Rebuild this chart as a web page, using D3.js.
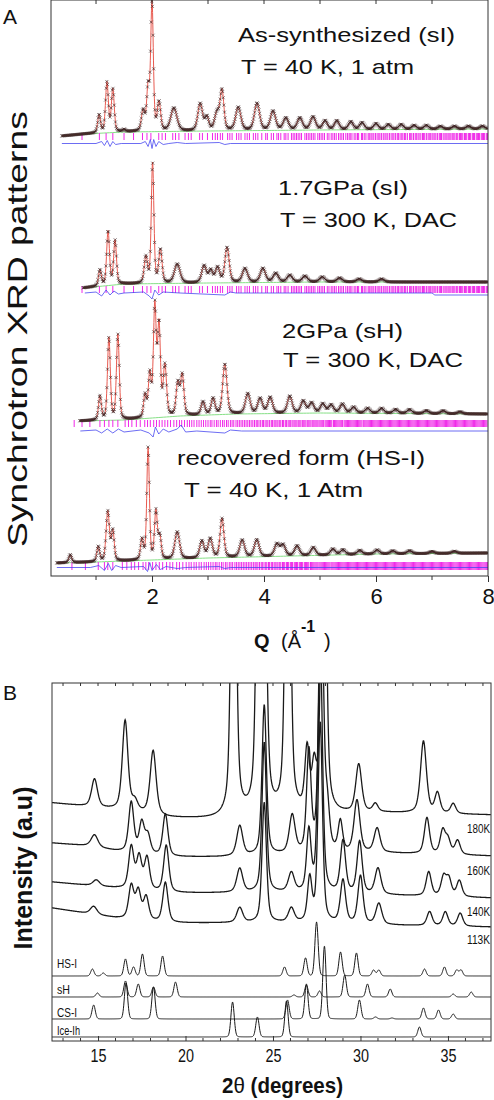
<!DOCTYPE html>
<html><head><meta charset="utf-8">
<script src="https://cdn.jsdelivr.net/npm/d3@7"></script>
<style>body{margin:0;background:#fff}svg{display:block}text{font-family:"Liberation Sans",Arial,sans-serif}</style>
</head><body>
<svg id="c" width="494" height="1100"></svg>
<script>
// ---------------- Panel A data (Q in 1/Å, intensity in a.u.) ----------------
const qMajorTicks = [2, 4, 6, 8];
const qMinorTicks = [1, 3, 5, 7];
const patternLabels = [
  ["As-synthesized (sI)", "T = 40 K, 1 atm"],
  ["1.7GPa (sI)", "T = 300 K, DAC"],
  ["2GPa (sH)", "T = 300 K, DAC"],
  ["recovered form (HS-I)", "T = 40 K, 1 Atm"]
];
const patternStart = [0.39, 0.77, 0.71, 0.30];
// background (green) control points [Q, I]
const bgP1 = [[0.39,440],[0.8,442],[1.5,444],[3,445],[5,446],[8,447]];
const bgP2 = [[0.77,288],[1.5,292],[3,293],[5,294],[8,294]];
const bgP3 = [[0.71,155],[1.5,156],[2.5,160],[3.5,162],[5,163],[8,162]];
const bgP4 = [[0.3,13],[1,14],[2,16],[3,18],[4.5,20],[6,22],[8,23]];
// peaks [Q, height, FWHM]
const peaksP1 = [[1.055,18,.06],[1.195,50,.06],[1.30,43,.06],[1.5,2,.06],[1.84,20,.07],[1.93,42,.06],[2.0,128,.055],[2.125,28,.07],[2.39,23,.13],[2.86,27,.1],[2.98,13,.08],[3.16,17,.1],[3.25,39,.08],[3.54,23,.11],[3.875,27,.11],[4.16,19,.11],[4.39,12,.11],[4.64,12,.11],[4.875,13,.11],[5.09,9,.1],[5.3,9,.1],[5.55,8,.1],[5.75,7,.1],[6.0,6,.1],[6.22,5,.1],[6.45,5,.1],[6.68,4,.1],[6.9,4,.1],[7.15,3,.1],[7.4,3,.1],[7.65,3,.1],[7.9,3,.1]];
const peaksP2 = [[1.07,16,.06],[1.215,54,.06],[1.34,44,.06],[1.89,26,.07],[2.01,120,.055],[2.15,33,.07],[2.45,19,.12],[2.93,17,.1],[3.05,12,.08],[3.17,15,.09],[3.34,35,.09],[3.66,14,.11],[3.98,14,.11],[4.21,9,.11],[4.46,7,.11],[4.73,6,.11],[5.04,5,.11],[5.35,4,.11],[5.7,3,.11],[6.1,3,.11]];
const peaksP3 = [[1.07,24,.06],[1.23,82,.06],[1.39,85,.06],[1.875,22,.06],[1.96,42,.06],[2.05,110,.06],[2.125,90,.06],[2.23,50,.07],[2.46,32,.07],[2.54,40,.07],[2.91,13,.08],[3.09,16,.08],[3.30,50,.09],[3.71,20,.1],[3.93,15,.1],[4.11,16,.1],[4.46,17,.1],[4.7,12,.1],[4.85,10,.1],[5.05,9,.1],[5.2,8,.1],[5.4,9,.1],[5.6,6,.1],[5.85,5,.1],[6.1,5,.1],[6.35,4,.1],[6.6,4,.1],[6.9,3,.1],[7.2,3,.1],[7.5,2,.1]];
const peaksP4 = [[0.54,8,.06],[1.04,15,.06],[1.21,50,.07],[1.30,30,.06],[1.82,20,.06],[1.93,112,.055],[2.07,48,.06],[2.14,22,.06],[2.45,27,.1],[2.89,17,.09],[3.04,19,.09],[3.25,39,.08],[3.61,17,.1],[3.87,17,.1],[4.23,12,.1],[4.34,11,.1],[4.59,10,.1],[4.88,8,.1],[5.23,6,.1],[5.41,5,.1],[5.71,4,.1],[6.02,4,.1],[6.3,3,.1],[6.6,3,.1],[7.0,2,.1],[7.4,2,.1]];
// reflection markers (Q)
const ticksSI = [0.75,1.06,1.18,1.30,1.50,1.67,1.83,1.91,1.98,2.12,2.18,2.24,2.37,2.42,2.48,2.59,2.65,2.70,2.85,2.90,2.99,3.08,3.13,3.17,3.22,3.26,3.35,3.39,3.43,3.51,3.55,3.59,3.66,3.70,3.74,3.81,3.85,3.89,3.96,4.03,4.06,4.13,4.17,4.23,4.26,4.30,4.36,4.39,4.43,4.49,4.52,4.55,4.58,4.61,4.64,4.67,4.73,4.76,4.79,4.82,4.85,4.88,4.91,4.96,4.99,5.02,5.05,5.08,5.13,5.16,5.2,5.23,5.26,5.29,5.33,5.36,5.39,5.42,5.46,5.49,5.52,5.54,5.57,5.61,5.64,5.67,5.69,5.74,5.76,5.79,5.82,5.86,5.88,5.91,5.93,5.96,5.99,6.02,6.05,6.07,6.1,6.13,6.16,6.18,6.21,6.24,6.27,6.3,6.32,6.35,6.38,6.4,6.43,6.46,6.48,6.51,6.53,6.56,6.6,6.62,6.64,6.67,6.7,6.72,6.75,6.77,6.8,6.83,6.85,6.87,6.9,6.93,6.95,6.97,7.0,7.02,7.05,7.07,7.1,7.13,7.15,7.17,7.2,7.23,7.25,7.27,7.3,7.32,7.34,7.37,7.39,7.41,7.44,7.46,7.49,7.51,7.53,7.55,7.58,7.6,7.62,7.65,7.67,7.69,7.72,7.74,7.76,7.79,7.81,7.83,7.85,7.88,7.9,7.92,7.94,7.97,7.99];
const ticksSH = [0.61,0.75,0.89,1.07,1.15,1.23,1.30,1.39,1.52,1.58,1.64,1.72,1.79,1.87,1.92,1.97,2.03,2.08,2.13,2.18,2.23,2.28,2.33,2.39,2.44,2.49,2.53,2.58,2.63,2.67,2.71,2.75,2.80,2.84,2.88,2.92,2.96,3.00,3.04,3.07,3.11,3.15,3.18,3.22,3.26,3.29,3.33,3.36,3.40,3.43,3.46,3.50,3.53,3.56,3.59,3.62,3.65,3.68,3.71,3.74,3.77,3.8,3.83,3.86,3.88,3.91,3.94,3.97,3.99,4.02,4.05,4.07,4.1,4.13,4.15,4.18,4.2,4.23,4.25,4.28,4.3,4.33,4.35,4.38,4.4,4.43,4.45,4.47,4.5,4.52,4.55,4.57,4.59,4.62,4.64,4.66,4.69,4.71,4.73,4.75,4.78,4.8,4.82,4.84,4.87,4.89,4.91,4.93,4.95,4.98,5.0,5.02,5.04,5.06,5.09,5.11,5.13,5.15,5.17,5.19,5.21,5.24,5.26,5.28,5.3,5.32,5.34,5.36,5.38,5.4,5.43,5.45,5.47,5.49,5.51,5.53,5.55,5.57,5.59,5.61,5.63,5.65,5.67,5.69,5.71,5.73,5.75,5.78,5.8,5.82,5.84,5.86,5.88,5.9,5.92,5.94,5.96,5.98,6.0,6.02,6.04,6.06,6.08,6.1,6.12,6.14,6.16,6.18,6.2,6.22,6.24,6.26,6.28,6.3,6.32,6.34,6.36,6.38,6.4,6.42,6.44,6.46,6.48,6.5,6.52,6.54,6.56,6.58,6.6,6.62,6.64,6.66,6.68,6.7,6.72,6.74,6.76,6.78,6.8,6.82,6.84,6.86,6.88,6.9,6.92,6.94,6.96,6.98,7.0,7.02,7.04,7.06,7.08,7.1,7.12,7.14,7.16,7.18,7.2,7.22,7.24,7.26,7.28,7.3,7.32,7.34,7.36,7.38,7.4,7.42,7.44,7.46,7.48,7.5,7.52,7.54,7.56,7.58,7.6,7.62,7.64,7.66,7.68,7.7,7.72,7.74,7.76,7.78,7.8,7.82,7.84,7.86,7.88,7.9,7.92,7.94,7.96,7.98];
const ticksHSI = [0.57,0.81,1.04,1.15,1.21,1.30,1.47,1.55,1.63,1.69,1.76,1.84,1.89,1.94,2.01,2.07,2.13,2.19,2.26,2.32,2.37,2.44,2.49,2.55,2.61,2.66,2.70,2.75,2.79,2.84,2.88,2.93,2.97,3.01,3.05,3.09,3.13,3.16,3.2,3.24,3.27,3.31,3.34,3.38,3.41,3.44,3.48,3.51,3.54,3.57,3.6,3.63,3.66,3.69,3.72,3.75,3.78,3.81,3.84,3.86,3.89,3.92,3.95,3.97,4.0,4.03,4.05,4.08,4.1,4.13,4.15,4.18,4.2,4.23,4.25,4.28,4.3,4.33,4.35,4.37,4.4,4.42,4.44,4.47,4.49,4.51,4.54,4.56,4.58,4.6,4.63,4.65,4.67,4.69,4.72,4.74,4.76,4.78,4.8,4.83,4.85,4.87,4.89,4.91,4.93,4.95,4.98,5.0,5.02,5.04,5.06,5.08,5.1,5.12,5.14,5.16,5.18,5.21,5.23,5.25,5.27,5.29,5.31,5.33,5.35,5.37,5.39,5.41,5.43,5.45,5.47,5.49,5.51,5.53,5.55,5.57,5.59,5.61,5.63,5.65,5.67,5.69,5.71,5.73,5.75,5.77,5.79,5.81,5.83,5.85,5.87,5.89,5.91,5.93,5.95,5.97,5.99,6.01,6.03,6.05,6.07,6.09,6.11,6.13,6.15,6.17,6.19,6.21,6.23,6.25,6.27,6.29,6.31,6.33,6.35,6.37,6.39,6.41,6.43,6.45,6.47,6.49,6.51,6.53,6.55,6.57,6.59,6.61,6.63,6.65,6.67,6.69,6.71,6.73,6.75,6.77,6.79,6.81,6.83,6.85,6.87,6.89,6.91,6.93,6.95,6.97,6.99,7.01,7.03,7.05,7.07,7.09,7.11,7.13,7.15,7.17,7.19,7.21,7.23,7.25,7.27,7.29,7.31,7.33,7.35,7.37,7.39,7.41,7.43,7.45,7.47,7.49,7.51,7.53,7.55,7.57,7.59,7.61,7.63,7.65,7.67,7.69,7.71,7.73,7.75,7.77,7.79,7.81,7.83,7.85,7.87,7.89,7.91,7.93,7.95,7.97,7.99];
const tickLevel = [[436,443],[283,290],[149,156],[6,14]];
// difference curves [Q, Iobs-Icalc] and their base levels
const diffBase = [432.5, 283, 145, 8.5];
const diffP1 = [[0.39,0],[1.0,0],[1.1,2],[1.15,-2],[1.2,3],[1.25,-3],[1.3,2],[1.35,-1],[1.45,0],[1.8,0],[1.88,2],[1.93,-3],[1.97,4],[2.0,-5],[2.03,4],[2.07,-3],[2.12,2],[2.2,-1],[2.3,0],[2.45,1],[2.6,0],[3.2,1],[3.3,-1],[3.4,0],[8,0]];
const diffP2 = [[0.8,0],[1.0,1],[1.1,-3],[1.18,3],[1.25,-2],[1.32,2],[1.4,-1],[1.5,0],[1.85,1],[1.95,-3],[2.0,-6],[2.05,3],[2.12,-2],[2.2,1],[2.5,0],[3.3,-2],[3.4,1],[3.5,0],[7.0,0],[7.05,-2],[8,-2]];
const diffP3 = [[0.72,0],[1.0,1],[1.1,-2],[1.2,2],[1.3,-2],[1.4,2],[1.5,-1],[1.8,1],[1.95,-2],[2.02,-6],[2.06,4],[2.12,-3],[2.2,2],[2.3,-1],[2.45,2],[2.52,6],[2.6,-1],[2.8,0],[3.3,-2],[3.4,1],[3.6,0],[8,0]];
const diffP4 = [[0.3,0],[0.9,0],[1.05,2],[1.15,-3],[1.22,4],[1.28,-3],[1.35,2],[1.45,0],[1.85,1],[1.92,-4],[1.96,5],[2.0,-3],[2.08,3],[2.15,-2],[2.25,1],[2.45,-1],[2.6,0],[3.2,1],[3.3,-1],[3.4,0],[8,0]];

// ---------------- Panel B data (2θ in degrees) ----------------
const tthMajorTicks = [15, 20, 25, 30, 35];
const tthMinorTicks = [13,14,16,17,18,19,21,22,23,24,26,27,28,29,31,32,33,34,36,37];
const traceNames = ["180K", "160K", "140K", "113K"];
const base180 = [[12.4,238],[14,235],[16,231],[19,223],[22,221],[26,224],[31,228],[37.5,226]];
const base160 = [[12.4,198],[14.5,195],[16,190],[19,184],[22,184],[26,186],[31,188],[37.5,185]];
const base140 = [[12.4,159],[16,153],[19,148],[22,148],[26,148],[31,146],[37.5,143]];
const base113 = [[12.4,133],[16,123],[19,118],[22,118],[26,118],[31,116],[37.5,114]];
const peaks180 = [[14.8,28,.4],[16.55,90,.38],[17.1,10,.4],[18.15,64,.4],[22.75,480,.3],[24.2,450,.3],[24.5,300,.3],[25.85,520,.3],[26.95,60,.3],[27.35,40,.3],[27.9,450,.3],[29.9,48,.4],[30.85,8,.35],[33.6,72,.4],[34.4,20,.35],[35.3,10,.35]];
const peaks160 = [[14.8,12,.45],[16.9,50,.35],[17.5,30,.35],[17.85,18,.35],[18.85,42,.35],[23.1,30,.4],[24.5,150,.3],[26.1,38,.4],[27.05,100,.3],[27.75,300,.3],[28.1,40,.3],[28.85,30,.3],[29.8,52,.4],[30.95,24,.4],[33.8,36,.35],[34.7,23,.35],[35.0,14,.35],[35.55,14,.35]];
const peaks140 = [[14.9,6,.45],[16.9,42,.35],[17.35,32,.35],[17.8,32,.35],[18.9,47,.35],[23.1,24,.4],[24.5,150,.3],[26.05,19,.4],[27.05,60,.3],[27.7,250,.3],[29.0,52,.35],[29.95,52,.35],[31.0,26,.4],[33.9,24,.35],[34.75,19,.35],[35.05,17,.35],[35.65,16,.35]];
const peaks113 = [[14.75,8,.45],[16.9,33,.35],[17.3,28,.35],[17.75,23,.35],[18.85,40,.35],[23.1,15,.4],[24.5,120,.3],[26.05,14,.4],[27.1,43,.3],[27.7,200,.3],[29.0,43,.35],[30.0,48,.35],[31.05,21,.4],[33.95,14,.35],[34.85,14,.35],[35.7,13,.35]];
const refNames = ["HS-I", "sH", "CS-I", "Ice-Ih"];
const refBase = [65, 44, 22, 4];
const refHSI = [[14.68,7],[15.3,3],[16.57,17],[17.03,9],[17.54,22],[18.69,20],[25.66,9],[26.86,18],[27.49,54],[28.86,24],[29.77,23],[30.75,6],[31.05,6],[33.66,7],[34.8,9],[35.5,6],[35.75,6]];
const refSH = [[14.97,4],[16.57,16],[17.3,13],[18.17,10],[19.43,15],[26.2,2],[26.91,12],[27.66,6],[29.1,22],[30.4,13],[31.7,8],[35.3,3],[36.33,5]];
const refCSI = [[14.75,14],[16.6,36],[18.17,32],[25.83,19],[26.91,35],[27.94,73],[29.94,19],[30.86,2],[31.8,1],[33.6,11],[34.46,9],[35.3,5]];
const refIce = [[22.69,35],[24.11,20],[25.77,36],[33.37,10]];

// ---------------- helpers ----------------
const svg = d3.select("#c");
const FONT = '"Liberation Sans",Arial,sans-serif';
function pv(dx, w, eta) { const t = 4*dx*dx/(w*w); return eta/(1+t) + (1-eta)*Math.exp(-Math.LN2*t); }
function interp(pts, x) {
  if (x <= pts[0][0]) return pts[0][1];
  for (let i = 1; i < pts.length; i++) if (x <= pts[i][0]) { const a = pts[i-1], b = pts[i]; return a[1] + (b[1]-a[1])*(x-a[0])/(b[0]-a[0]); }
  return pts[pts.length-1][1];
}
function profile(x, base, peaks, eta) { let v = interp(base, x); for (const p of peaks) v += p[1]*pv(x-p[0], p[2], eta); return v; }

// ---------------- Panel A ----------------
const A = {l: 51, r: 488, t: 0, b: 576};
const xA = d3.scaleLinear().domain([0.196, 8]).range([A.l, A.r]);
const yA = d3.scaleLinear().domain([0, 576]).range([A.b, A.t]);
svg.append("clipPath").attr("id","clipA").append("rect").attr("x",A.l).attr("y",A.t).attr("width",A.r-A.l).attr("height",A.b-A.t);
const gA = svg.append("g").attr("clip-path","url(#clipA)");
const bgs = [bgP1,bgP2,bgP3,bgP4], pks = [peaksP1,peaksP2,peaksP3,peaksP4], tks = [ticksSI,ticksSI,ticksSH,ticksHSI], dfs = [diffP1,diffP2,diffP3,diffP4];
const lineA = d3.line().x(d => xA(d[0])).y(d => yA(d[1]));
for (let k = 0; k < 4; k++) {
  const q0 = patternStart[k];
  const calc = d3.range(q0, 8.001, 0.004).map(q => [q, profile(q, bgs[k], pks[k], 0.35)]);
  const obs = d3.range(q0, 8.001, 0.011).map(q => [q, profile(q, bgs[k], pks[k], 0.35)]);
  gA.append("path").attr("d", lineA(d3.range(q0, 8.001, 0.05).map(q => [q, interp(bgs[k], q)]))).attr("fill","none").attr("stroke","#86e086").attr("stroke-width",1);
  gA.append("g").selectAll("line").data(tks[k]).join("line")
    .attr("x1", d => xA(d)).attr("x2", d => xA(d)).attr("y1", yA(tickLevel[k][0])).attr("y2", yA(tickLevel[k][1]))
    .attr("stroke", "#f028e8").attr("stroke-width", 1);
  gA.append("path").attr("d", lineA(dfs[k].map(d => [d[0], diffBase[k] + d[1]]))).attr("fill","none").attr("stroke","#4848f0").attr("stroke-width",0.8);
  gA.append("path").attr("d", lineA(calc)).attr("fill","none").attr("stroke","#e85a50").attr("stroke-width",1);
  const s = 1.5;
  const dpath = obs.map(d => { const x = xA(d[0]), y = yA(d[1]); return `M${x-s},${y-s}L${x+s},${y+s}M${x-s},${y+s}L${x+s},${y-s}`; }).join("");
  gA.append("path").attr("d", dpath).attr("fill","none").attr("stroke","#3a2222").attr("stroke-width",0.7).attr("stroke-opacity",0.85);
}
svg.append("rect").attr("x",A.l).attr("y",A.t).attr("width",A.r-A.l).attr("height",A.b-A.t).attr("fill","none").attr("stroke","#333").attr("stroke-width",1);
const axA = svg.append("g").attr("transform",`translate(0,${A.b})`).call(d3.axisBottom(xA).tickValues(qMajorTicks).tickFormat(d3.format("d")).tickSize(6).tickPadding(6));
axA.select(".domain").remove();
axA.selectAll("line").attr("stroke","#333");
axA.selectAll("text").attr("font-size",22).attr("font-family",FONT).attr("fill","#111");
svg.append("g").selectAll("line").data(qMinorTicks).join("line").attr("x1",d=>xA(d)).attr("x2",d=>xA(d)).attr("y1",A.b).attr("y2",A.b+4).attr("stroke","#333");
svg.append("g").selectAll("line").data(qMinorTicks.concat(qMajorTicks.slice(0,3))).join("line").attr("x1",d=>xA(d)).attr("x2",d=>xA(d)).attr("y1",A.t).attr("y2",A.t+4).attr("stroke","#333");
const labPos = [[238,42,217,74,241,173],[278,195,130,227,280,177],[282,338,121,367,283,180],[177,465,248,497,184,179]];
patternLabels.forEach((lab, k) => {
  const p = labPos[k];
  svg.append("text").attr("x",p[0]).attr("y",p[1]).attr("font-size",21).attr("textLength",p[2]).attr("lengthAdjust","spacingAndGlyphs").attr("fill","#111").text(lab[0]);
  svg.append("text").attr("x",p[4]).attr("y",p[3]).attr("font-size",21).attr("textLength",p[5]).attr("lengthAdjust","spacingAndGlyphs").attr("fill","#111").text(lab[1]);
});
svg.append("text").attr("x",3).attr("y",24).attr("font-size",21).attr("fill","#111").text("A");
svg.append("text").attr("transform","translate(27,329) rotate(-90)").attr("text-anchor","middle").attr("font-size",28).attr("textLength",436).attr("lengthAdjust","spacingAndGlyphs").attr("fill","#111").text("Synchrotron XRD patterns");
svg.append("text").attr("x",254).attr("y",648).attr("font-size",20).attr("font-weight","bold").attr("fill","#111").text("Q");
svg.append("text").attr("x",281).attr("y",648).attr("font-size",20).attr("fill","#111").text("(Å");
svg.append("text").attr("x",301).attr("y",632).attr("font-size",16).attr("font-weight","bold").attr("fill","#111").text("-1");
svg.append("text").attr("x",324).attr("y",648).attr("font-size",20).attr("fill","#111").text(")");

// ---------------- Panel B ----------------
const B = {l: 52, r: 491, t: 683, b: 1041};
const xB = d3.scaleLinear().domain([12.37, 37.46]).range([B.l, B.r]);
const yB = d3.scaleLinear().domain([0, 358]).range([B.b, B.t]);
svg.append("clipPath").attr("id","clipB").append("rect").attr("x",B.l).attr("y",B.t).attr("width",B.r-B.l).attr("height",B.b-B.t);
const gB = svg.append("g").attr("clip-path","url(#clipB)");
const lineB = d3.line().x(d => xB(d[0])).y(d => yB(d[1]));
const tBases = [base180, base160, base140, base113], tPeaks = [peaks180, peaks160, peaks140, peaks113];
for (let k = 0; k < 4; k++) {
  const pts = d3.range(12.37, 37.47, 0.02).map(t => [t, profile(t, tBases[k], tPeaks[k], 0.5)]);
  gB.append("path").attr("d", lineB(pts)).attr("fill","none").attr("stroke","#1a1a1a").attr("stroke-width",1.3);
}
const refs = [refHSI, refSH, refCSI, refIce];
for (let k = 0; k < 4; k++) {
  const pk = refs[k].map(p => [p[0], p[1], 0.22]);
  const pts = d3.range(12.37, 37.47, 0.02).map(t => [t, profile(t, [[12,refBase[k]],[38,refBase[k]]], pk, 0.1)]);
  gB.append("path").attr("d", lineB(pts)).attr("fill","none").attr("stroke","#1a1a1a").attr("stroke-width",1);
}
svg.append("rect").attr("x",B.l).attr("y",B.t).attr("width",B.r-B.l).attr("height",B.b-B.t).attr("fill","none").attr("stroke","#333").attr("stroke-width",1);
const axB = svg.append("g").attr("transform",`translate(0,${B.b})`).call(d3.axisBottom(xB).tickValues(tthMajorTicks).tickSize(-5).tickPadding(8));
axB.select(".domain").remove();
axB.selectAll("line").attr("stroke","#333");
axB.selectAll("text").attr("font-size",18).attr("font-family",FONT).attr("fill","#111").attr("textLength",16).attr("lengthAdjust","spacingAndGlyphs");
svg.append("g").selectAll("line").data(tthMinorTicks).join("line").attr("x1",d=>xB(d)).attr("x2",d=>xB(d)).attr("y1",B.b).attr("y2",B.b-3).attr("stroke","#333");
svg.append("g").selectAll("line").data(tthMinorTicks.concat(tthMajorTicks)).join("line").attr("x1",d=>xB(d)).attr("x2",d=>xB(d)).attr("y1",B.t).attr("y2",B.t+3).attr("stroke","#333");
const traceLabY = [833, 875, 916, 944];
traceNames.forEach((n,k) => svg.append("text").attr("x",467).attr("y",traceLabY[k]).attr("font-size",12).attr("textLength",23).attr("lengthAdjust","spacingAndGlyphs").attr("fill","#111").text(n));
const refLabY = [968, 994, 1017, 1035], refLabW = [20, 13, 20, 23];
refNames.forEach((n,k) => svg.append("text").attr("x",57).attr("y",refLabY[k]).attr("font-size",12).attr("textLength",refLabW[k]).attr("lengthAdjust","spacingAndGlyphs").attr("fill","#111").text(n));
svg.append("text").attr("x",3).attr("y",700).attr("font-size",21).attr("fill","#111").text("B");
svg.append("text").attr("transform","translate(32,868) rotate(-90)").attr("text-anchor","middle").attr("font-size",25).attr("font-weight","bold").attr("textLength",163).attr("lengthAdjust","spacingAndGlyphs").attr("fill","#111").text("Intensity (a.u)");
const xt = svg.append("text").attr("x",222).attr("y",1093).attr("font-size",22).attr("textLength",121).attr("lengthAdjust","spacingAndGlyphs").attr("fill","#111");
xt.append("tspan").attr("font-weight","bold").text("2");
xt.append("tspan").attr("font-weight","normal").text("θ");
xt.append("tspan").attr("font-weight","bold").text(" (degrees)");
</script>
</body></html>
